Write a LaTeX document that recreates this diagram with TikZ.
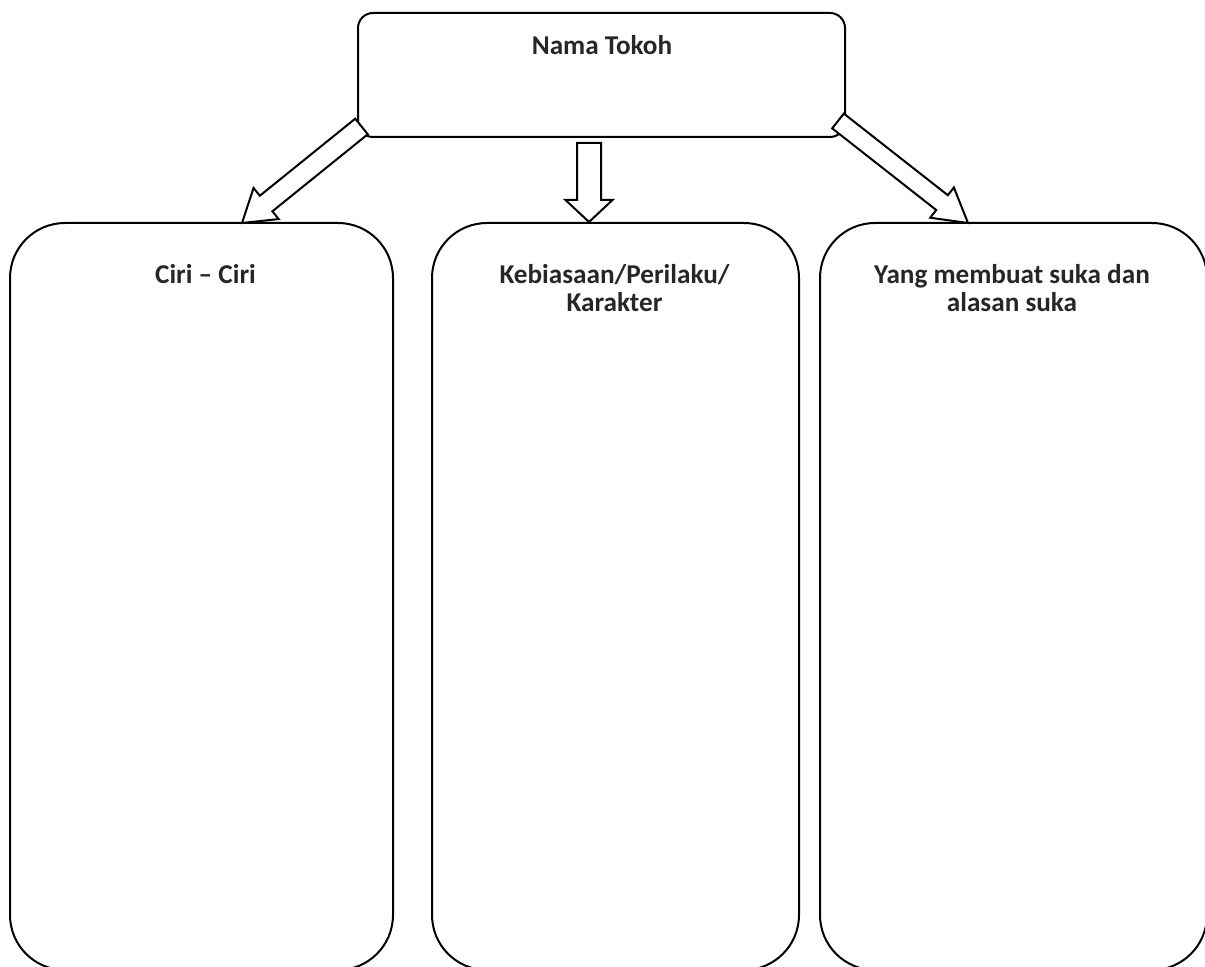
\documentclass[tikz,border=0pt]{standalone}
\usepackage{fontspec}
\setmainfont{Carlito}
\usetikzlibrary{calc}
\definecolor{labelgray}{HTML}{262626}
\tikzset{
  bigbox/.style={draw, line width=1pt, rounded corners=27.5pt, outer sep=0pt, inner sep=0pt, minimum height=373.5pt},
  topbox/.style={draw, line width=1pt, rounded corners=7.5pt, outer sep=0pt, inner sep=0pt, minimum width=243.5pt, minimum height=62pt},
  title/.style={font=\fontsize{13.6}{14}\selectfont\bfseries, text=labelgray, align=center, anchor=base, inner sep=0pt},
  blockarrow/.style={draw, fill=white, line width=1pt, line join=miter}
}
% from, to, shaft half width, head half width, head length
\newcommand{\hollowarrow}[5]{%
  \path ($(#2)!#5!(#1)$) coordinate (hbase);
  \draw[blockarrow] ($(#1)!#3!90:(#2)$) -- ($(hbase)!#3!90:(#2)$)
    -- ($(hbase)!#4!90:(#2)$) -- (#2) -- ($(hbase)!#4!-90:(#2)$)
    -- ($(hbase)!#3!-90:(#2)$) -- ($(#1)!#3!-90:(#2)$) -- cycle;
}
\begin{document}
\begin{tikzpicture}[x=0.5pt, y=-0.5pt]
    \useasboundingbox (0,0) rectangle (1205,967);
    \clip (0,0) rectangle (1205,967);
    % boxes
    \node[topbox, anchor=north west] (tokoh) at (358,13) {};
    \node[bigbox, minimum width=191.5pt, anchor=north west] (ciri) at (10,223) {};
    \node[bigbox, minimum width=183.5pt, anchor=north west] (kebiasaan) at (432,223) {};
    \node[bigbox, minimum width=193.5pt, anchor=north west] (suka) at (820,223) {};
    % titles (base = last line)
    \node[title] (tokohtext) at ($(tokoh.north)+(0.5,42)$) {Nama Tokoh};
    \node[title] (ciritext) at ($(ciri.north)+(4,61)$) {Ciri – Ciri};
    \node[title] (kebiasaantext) at ($(kebiasaan.north)+(-1,89)$) {Kebiasaan/Perilaku/\\Karakter};
    \node[title] (sukatext) at ($(suka.north)+(-1.5,89)$) {Yang membuat suka dan\\alasan suka};
    % arrow ends
    \coordinate (lefttail) at ($(tokoh.south west)+(3.5,-10.5)$);
    \coordinate (lefttip) at ($(ciri.north)+(40.5,0)$);
    \coordinate (midtail) at ($(tokoh.south)+(-12.5,6)$);
    \coordinate (midtip) at ($(kebiasaan.north)+(-26.5,-1)$);
    \coordinate (righttail) at ($(tokoh.south east)+(-7,-16)$);
    \coordinate (righttip) at ($(suka.north)+(-45.5,0)$);
    % arrows
    \hollowarrow{lefttail}{lefttip}{5pt}{10pt}{15.5pt}
    \hollowarrow{midtail}{midtip}{6pt}{11.75pt}{11pt}
    \hollowarrow{righttail}{righttip}{4.7pt}{9.6pt}{16.5pt}
\end{tikzpicture}
\end{document}
